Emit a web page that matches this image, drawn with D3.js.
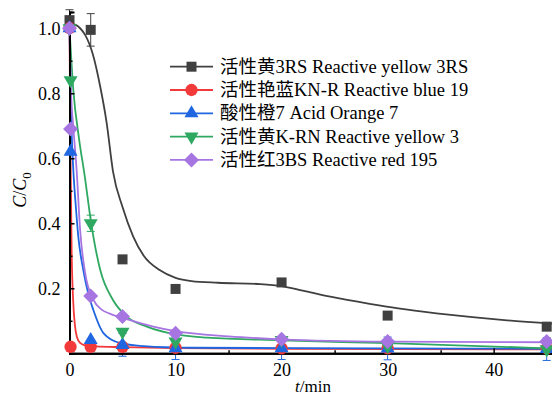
<!DOCTYPE html>
<html>
<head>
<meta charset="utf-8">
<script src="https://cdn.jsdelivr.net/npm/d3@7"></script>
<style>
  html, body { margin: 0; padding: 0; background: #fff; }
  svg { display: block; }
</style>
</head>
<body>
<svg id="chart" width="552" height="395"></svg>
<script>
// Sampling times (min) and measured C/C0 for each dye
const timesBlack = [0, 2, 5, 10, 20, 30, 45];
const timesOther = [0, 0.1, 2, 5, 10, 20, 30, 45];

const yellow3RS = [1.025, 0.995, 0.289, 0.198, 0.218, 0.116, 0.082];
const yellow3RSErr = [0.032, 0.05, 0, 0, 0, 0, 0];
const blue19 = [1.0, 0.02, 0.02, 0.02, 0.017, 0.015, 0.015, 0.015];
const orange7 = [1.0, 0.62, 0.041, 0.026, 0.016, 0.016, 0.015, 0.013];
const orange7Err = [0, 0, 0, 0.035, 0.035, 0.035, 0.035, 0.035];
const yellow3 = [1.0, 0.84, 0.40, 0.066, 0.036, 0.041, 0.022, 0.012];
const yellow3Err = [0, 0, 0.025, 0, 0, 0, 0, 0];
const red195 = [1.0, 0.69, 0.176, 0.113, 0.062, 0.043, 0.036, 0.036];

// Fitted kinetic curves
const fitTBlack = [0, 0.4, 1.0, 1.5, 2.2, 2.9, 3.5, 4.1, 5, 6, 7, 8.5, 10, 11.5, 14, 18, 20, 22, 24.6, 28.3, 31, 34.6, 38, 41, 45.5];
const fitBlack = [1.0, 1.012, 1.0, 0.978, 0.92, 0.82, 0.71, 0.56, 0.45, 0.36, 0.30, 0.256, 0.232, 0.222, 0.217, 0.213, 0.207, 0.193, 0.174, 0.152, 0.138, 0.123, 0.111, 0.102, 0.091];
const fitTRed = [0, 0.1, 0.2, 0.35, 0.5, 0.7, 1.0, 1.5, 2.5, 5, 10, 20, 45.5];
const fitRed = [1.0, 0.6, 0.32, 0.16, 0.09, 0.05, 0.032, 0.024, 0.021, 0.019, 0.016, 0.014, 0.012];
const fitTBlue = [0, 0.1, 0.2, 0.36, 0.6, 0.83, 1.3, 1.8, 2.25, 3.2, 4.8, 7, 11.4, 20, 30, 45.5];
const fitBlue = [1.0, 0.8, 0.68, 0.564, 0.45, 0.359, 0.256, 0.18, 0.133, 0.062, 0.031, 0.022, 0.017, 0.016, 0.015, 0.014];
const fitTGreen = [0, 0.36, 0.9, 1.46, 2.0, 2.9, 4.1, 5.4, 7.3, 10, 13, 20, 30, 45.5];
const fitGreen = [1.0, 0.81, 0.66, 0.54, 0.41, 0.256, 0.164, 0.113, 0.082, 0.058, 0.048, 0.04, 0.031, 0.015];
const fitTPurple = [0, 0.15, 0.35, 0.68, 1.0, 1.46, 2.25, 3.0, 3.8, 5.4, 7.9, 10, 15, 20, 30, 45.5];
const fitPurple = [1.0, 0.8, 0.7, 0.56, 0.38, 0.25, 0.165, 0.135, 0.122, 0.105, 0.082, 0.068, 0.052, 0.043, 0.036, 0.034];

const legendLabels = [
  "活性黄3RS Reactive yellow 3RS",
  "活性艳蓝KN-R Reactive blue 19",
  "酸性橙7 Acid Orange 7",
  "活性黄K-RN Reactive yellow 3",
  "活性红3BS Reactive red 195"
];
const xTicks = [0, 10, 20, 30, 40];
const yTicks = [0.2, 0.4, 0.6, 0.8, 1.0];

const FONT = "'Liberation Serif', 'DejaVu Serif', 'Noto Sans CJK SC', serif";

const series = [
  { name: legendLabels[0], t: timesBlack, v: yellow3RS, err: yellow3RSErr, ft: fitTBlack, fv: fitBlack, color: "#404040", symbol: d3.symbolSquare, size: 100, rot: 0 },
  { name: legendLabels[1], t: timesOther, v: blue19, err: null, ft: fitTRed, fv: fitRed, color: "#f23a3a", symbol: d3.symbolCircle, size: 120, rot: 0 },
  { name: legendLabels[2], t: timesOther, v: orange7, err: orange7Err, ft: fitTBlue, fv: fitBlue, color: "#1f66e0", symbol: d3.symbolTriangle, size: 85, rot: 0 },
  { name: legendLabels[3], t: timesOther, v: yellow3, err: yellow3Err, ft: fitTGreen, fv: fitGreen, color: "#2fa862", symbol: d3.symbolTriangle, size: 85, rot: 180 },
  { name: legendLabels[4], t: timesOther, v: red195, err: null, ft: fitTPurple, fv: fitPurple, color: "#a775e2", symbol: d3.symbolSquare, size: 112, rot: 45 }
];

const svg = d3.select("#chart");
const x = d3.scaleLinear().domain([0, 45.5]).range([69.5, 552]);
const y = d3.scaleLinear().domain([0, 1.05]).range([353.3, 12]);

// Fitted curves
const line = d3.line().x(d => x(d[0])).y(d => y(d[1])).curve(d3.curveMonotoneX);
series.forEach(s => {
  svg.append("path")
    .attr("d", line(s.ft.map((t, i) => [t, s.fv[i]])))
    .attr("fill", "none")
    .attr("stroke", s.color)
    .attr("stroke-width", 1.8);
});

// Error bars
series.forEach(s => {
  if (!s.err) return;
  s.t.forEach((t, i) => {
    const e = s.err[i];
    if (!e) return;
    const g = svg.append("g").attr("stroke", s.color).attr("stroke-width", 1);
    g.append("line").attr("x1", x(t)).attr("x2", x(t)).attr("y1", y(s.v[i] - e)).attr("y2", y(s.v[i] + e));
    [s.v[i] - e, s.v[i] + e].forEach(val => {
      g.append("line").attr("x1", x(t) - 4).attr("x2", x(t) + 4).attr("y1", y(val)).attr("y2", y(val));
    });
  });
});

// Axes (ticks point inward)
const xAxis = svg.append("g").attr("transform", `translate(0,${y(0)})`)
  .call(d3.axisBottom(x).tickValues(xTicks).tickSize(-5).tickPadding(10).tickFormat(d3.format("d")));
const xMinor = svg.append("g").attr("transform", `translate(0,${y(0)})`)
  .call(d3.axisBottom(x).tickValues([5, 15, 25, 35, 45]).tickSize(-3).tickFormat(""));
const yAxis = svg.append("g").attr("transform", `translate(${x(0)},0)`)
  .call(d3.axisLeft(y).tickValues(yTicks).tickSize(-5).tickPadding(9).tickFormat(d3.format(".1f")));
const yMinor = svg.append("g").attr("transform", `translate(${x(0)},0)`)
  .call(d3.axisLeft(y).tickValues([0.1, 0.3, 0.5, 0.7, 0.9]).tickSize(-3).tickFormat(""));
[xAxis, xMinor, yAxis, yMinor].forEach(a => {
  a.attr("font-family", null).attr("font-size", null);
  a.select(".domain").attr("stroke", "#000").attr("stroke-width", 2);
  a.selectAll(".tick line").attr("stroke", "#000").attr("stroke-width", 1.5);
  a.selectAll(".tick text").style("font-family", FONT).style("font-size", "18px").attr("fill", "#000");
});

// Markers
series.forEach(s => {
  const sym = d3.symbol().type(s.symbol).size(s.size);
  svg.append("g").selectAll("path").data(s.t.map((t, i) => [t, s.v[i]])).join("path")
    .attr("d", sym)
    .attr("transform", d => `translate(${x(d[0])},${y(d[1])}) rotate(${s.rot})`)
    .attr("fill", s.color);
});

// Axis titles
const xt = svg.append("text").attr("x", 295).attr("y", 392).attr("text-anchor", "start")
  .style("font-family", FONT).style("font-size", "17px");
xt.append("tspan").attr("font-style", "italic").text("t");
xt.append("tspan").text("/min");

const yt = svg.append("text").attr("transform", "translate(26,190) rotate(-90)").attr("text-anchor", "middle")
  .style("font-family", FONT).style("font-size", "18px");
yt.append("tspan").attr("font-style", "italic").text("C");
yt.append("tspan").text("/");
yt.append("tspan").attr("font-style", "italic").text("C");
yt.append("tspan").style("font-size", "13px").attr("dy", 5).text("0");

// Legend
const lg = svg.append("g");
series.forEach((s, i) => {
  const cy = 66.7 + i * 23.3;
  lg.append("line").attr("x1", 170).attr("x2", 213).attr("y1", cy).attr("y2", cy)
    .attr("stroke", s.color).attr("stroke-width", 1.8);
  lg.append("path").attr("d", d3.symbol().type(s.symbol).size(s.size)())
    .attr("transform", `translate(191.5,${cy}) rotate(${s.rot})`).attr("fill", s.color);
  lg.append("text").attr("x", 220).attr("y", cy + 6)
    .style("font-family", FONT).style("font-size", "18.5px").text(s.name);
});
</script>
</body>
</html>
